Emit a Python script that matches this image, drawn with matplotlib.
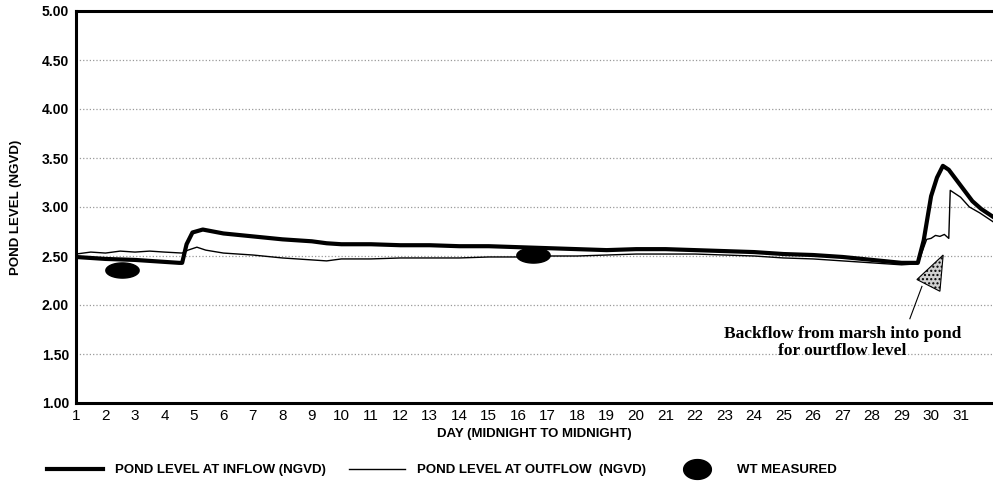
#!/usr/bin/env python3
# Pond level at inflow / outflow over one month, with WT measurements.
import numpy as np
import matplotlib
matplotlib.use("Agg")
import matplotlib.pyplot as plt
from matplotlib.path import Path
from matplotlib.lines import Line2D
from matplotlib.patches import Polygon

# data (day of month, stage in ft NGVD)
in_day = [1.0, 2.0, 3.0, 4.0, 4.5, 4.6, 4.75, 4.95, 5.3, 6.0, 7.0, 8.0, 9.0, 9.5,
          10, 11, 12, 13, 14, 15, 16, 17, 18, 19, 20, 21, 22, 23, 24, 25, 26,
          27, 28, 29, 29.55, 29.75, 30.0, 30.2, 30.4, 30.6, 31.0, 31.4, 31.7, 32.1]
in_lvl = [2.49, 2.47, 2.46, 2.44, 2.43, 2.43, 2.62, 2.74, 2.77, 2.73, 2.70, 2.67,
          2.65, 2.63, 2.62, 2.62, 2.61, 2.61, 2.60, 2.60, 2.59, 2.58, 2.57, 2.56,
          2.57, 2.57, 2.56, 2.55, 2.54, 2.52, 2.51, 2.49, 2.46, 2.43, 2.43, 2.66,
          3.11, 3.30, 3.42, 3.38, 3.22, 3.06, 2.98, 2.90]

out_day = [1.0, 1.5, 2.0, 2.5, 3.0, 3.5, 4.0, 4.6, 4.8, 5.1, 5.4, 6, 7, 8, 9, 9.5,
           10, 11, 12, 13, 14, 15, 16, 17, 18, 19, 20, 21, 22, 23, 24, 25, 26, 27,
           28, 29, 29.55, 29.85, 30.0, 30.15, 30.3, 30.45, 30.6, 30.65, 31.0,
           31.3, 31.65, 32.1]
out_lvl = [2.52, 2.54, 2.53, 2.55, 2.54, 2.55, 2.54, 2.53, 2.56, 2.59, 2.56, 2.53,
           2.51, 2.48, 2.46, 2.45, 2.47, 2.47, 2.48, 2.48, 2.48, 2.49, 2.49, 2.50,
           2.50, 2.51, 2.52, 2.52, 2.52, 2.51, 2.50, 2.48, 2.47, 2.45, 2.43, 2.41,
           2.42, 2.67, 2.68, 2.71, 2.70, 2.72, 2.68, 3.17, 3.10, 3.00, 2.94, 2.85]

wt_day = [2.55, 16.5]
wt_lvl = [2.36, 2.51]

# annotation wedge (day, level)
tri = [(30.41, 2.51), (29.52, 2.26), (30.30, 2.14)]
lead = [(29.69, 2.19), (29.28, 1.86)]
note = "Backflow from marsh into pond\nfor ourtflow level"

plt.rcParams["font.family"] = ["Liberation Sans", "DejaVu Sans"]

fig = plt.figure(figsize=(9.93, 4.86), dpi=100)
ax = fig.add_axes([76 / 993, 1 - 403 / 486, 1 - 76 / 993, 392 / 486])

t = np.linspace(0, 2 * np.pi, 60)
ell = Path(np.column_stack([1.1 * np.cos(t), 0.5 * np.sin(t)]))
ell_leg = Path(np.column_stack([0.7 * np.cos(t), 0.5 * np.sin(t)]))

ax.plot(in_day, in_lvl, color="black", lw=3.0, solid_joinstyle="round", zorder=3)
ax.plot(out_day, out_lvl, color="black", lw=1.0, zorder=4)
ax.plot(wt_day, wt_lvl, ls="none", marker=ell, ms=24, color="black", zorder=5)

ax.add_patch(Polygon(tri, closed=True, facecolor="#d0d0d0", edgecolor="black",
                     lw=0.8, hatch="....", zorder=6))
ax.plot(*zip(*lead), color="black", lw=0.8, zorder=6)
ax.text(27.0, 1.62, note, ha="center", va="center", fontsize=12.5,
        fontweight="bold", family=["Liberation Serif", "DejaVu Serif"],
        linespacing=1.05)

ax.set_xlim(1, 32.1)
ax.set_ylim(1.0, 5.0)
ax.set_xticks(range(1, 32))
ax.set_yticks(np.arange(1.0, 5.01, 0.5))
ax.set_yticklabels([f"{v:.2f}" for v in np.arange(1.0, 5.01, 0.5)],
                   fontweight="bold", fontsize=10)
ax.tick_params(axis="x", length=0, pad=4, labelsize=11)
ax.tick_params(axis="y", length=0, pad=5)
ax.grid(axis="y", ls=":", color="#999999", lw=0.9)
for s in ["left", "bottom", "top"]:
    ax.spines[s].set_linewidth(2.2)
ax.spines["right"].set_visible(False)

ax.set_ylabel("POND LEVEL (NGVD)", fontweight="bold", fontsize=9.5, labelpad=14)
ax.set_xlabel("DAY (MIDNIGHT TO MIDNIGHT)", fontweight="bold", fontsize=9.5,
              labelpad=4)

handles = [Line2D([], [], color="black", lw=3.0),
           Line2D([], [], color="black", lw=1.0),
           Line2D([], [], ls="none", marker=ell_leg, ms=20, color="black")]
labels = ["POND LEVEL AT INFLOW (NGVD)", "POND LEVEL AT OUTFLOW  (NGVD)",
          "WT MEASURED"]
fig.legend(handles, labels, ncol=3, loc="center", frameon=False,
           bbox_to_anchor=(0.445, 1 - 470 / 486), handlelength=4.2,
           columnspacing=1.8, handletextpad=0.9,
           prop={"weight": "bold", "size": 9.5})

fig.savefig("out.png", dpi=100)
